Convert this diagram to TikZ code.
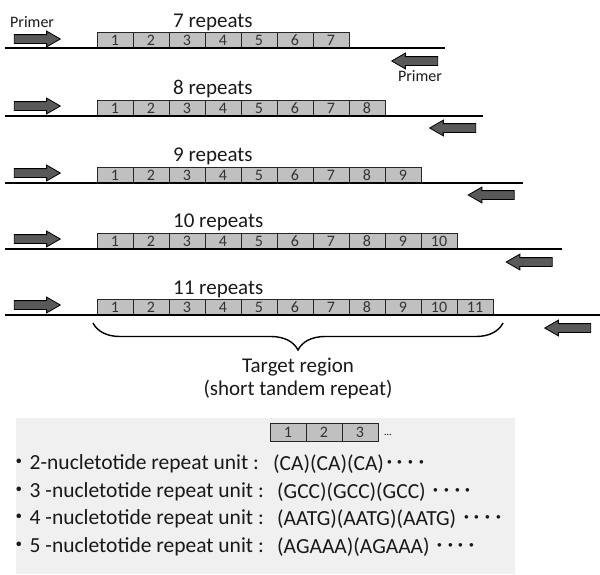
\documentclass[tikz,border=0pt]{standalone}
\usepackage{fontspec}
\setmainfont{Carlito}
\newfontfamily\cjk{Noto Sans CJK JP}
\usetikzlibrary{shapes, shapes.arrows, decorations.pathreplacing, positioning}
\definecolor{cellgray}{HTML}{C0C0C0}
\definecolor{primergray}{HTML}{595959}
\definecolor{panelgray}{HTML}{F0F0F0}
\tikzstyle{cell}=[draw=black!85, fill=cellgray, line width=0.8pt, minimum width=36pt, minimum height=16pt, inner sep=0pt, text=black!80, font=\fontsize{16}{16}\selectfont]
\tikzstyle{strand}=[line width=2.4pt]
\tikzstyle{primer}=[single arrow, draw=black, fill=primergray, line width=0.8pt, minimum height=46pt, minimum width=0pt, inner sep=4pt, single arrow head extend=3.5pt, single arrow tip angle=60]
\tikzstyle{reverse}=[primer, shape border rotate=180]
\tikzstyle{label}=[inner sep=0pt, anchor=west, text=black!90, font=\fontsize{21}{21}\selectfont]
\tikzstyle{unittext}=[label, font=\fontsize{21.5}{21.5}\selectfont]
\tikzstyle{small}=[inner sep=0pt, text=black!90, font=\fontsize{16}{16}\selectfont]

\begin{document}
\begin{tikzpicture}[x=1pt, y=-1pt]
    \useasboundingbox (0, 0) rectangle (600, 574);

    % 7 repeats
    \node (p1)[primer] at (33.5, 39) {};
    \node (q1)[reverse] at (418.5, 61) {};
    \node (pl1)[small, anchor=west] at (10, 22) {Primer};
    \node (pl2)[small] at (420, 76) {Primer};
    \node (n1)[label] at (173, 22) {7 repeats};
    \node (r1c1)[cell] at (115, 40) {1};
    \node (r1c2)[cell] at (151, 40) {2};
    \node (r1c3)[cell] at (187, 40) {3};
    \node (r1c4)[cell] at (223, 40) {4};
    \node (r1c5)[cell] at (259, 40) {5};
    \node (r1c6)[cell] at (295, 40) {6};
    \node (r1c7)[cell] at (331, 40) {7};
    \coordinate (s1) at (5, 48);
    \coordinate (e1) at (445, 48);
    \draw[strand] (s1) -- (e1);

    % 8 repeats
    \node (p2)[primer] at (33.5, 106) {};
    \node (q2)[reverse] at (456.5, 128) {};
    \node (n2)[label] at (173, 89) {8 repeats};
    \node (r2c1)[cell] at (115, 108) {1};
    \node (r2c2)[cell] at (151, 108) {2};
    \node (r2c3)[cell] at (187, 108) {3};
    \node (r2c4)[cell] at (223, 108) {4};
    \node (r2c5)[cell] at (259, 108) {5};
    \node (r2c6)[cell] at (295, 108) {6};
    \node (r2c7)[cell] at (331, 108) {7};
    \node (r2c8)[cell] at (367, 108) {8};
    \coordinate (s2) at (5, 116);
    \coordinate (e2) at (483, 116);
    \draw[strand] (s2) -- (e2);

    % 9 repeats
    \node (p3)[primer] at (33.5, 173) {};
    \node (q3)[reverse] at (495, 195) {};
    \node (n3)[label] at (173, 156) {9 repeats};
    \node (r3c1)[cell] at (115, 175) {1};
    \node (r3c2)[cell] at (151, 175) {2};
    \node (r3c3)[cell] at (187, 175) {3};
    \node (r3c4)[cell] at (223, 175) {4};
    \node (r3c5)[cell] at (259, 175) {5};
    \node (r3c6)[cell] at (295, 175) {6};
    \node (r3c7)[cell] at (331, 175) {7};
    \node (r3c8)[cell] at (367, 175) {8};
    \node (r3c9)[cell] at (403, 175) {9};
    \coordinate (s3) at (5, 183);
    \coordinate (e3) at (523, 183);
    \draw[strand] (s3) -- (e3);

    % 10 repeats
    \node (p4)[primer] at (33.5, 239) {};
    \node (q4)[reverse] at (533, 262) {};
    \node (n4)[label] at (173, 222) {10 repeats};
    \node (r4c1)[cell] at (115, 241) {1};
    \node (r4c2)[cell] at (151, 241) {2};
    \node (r4c3)[cell] at (187, 241) {3};
    \node (r4c4)[cell] at (223, 241) {4};
    \node (r4c5)[cell] at (259, 241) {5};
    \node (r4c6)[cell] at (295, 241) {6};
    \node (r4c7)[cell] at (331, 241) {7};
    \node (r4c8)[cell] at (367, 241) {8};
    \node (r4c9)[cell] at (403, 241) {9};
    \node (r4c10)[cell] at (439, 241) {10};
    \coordinate (s4) at (5, 249);
    \coordinate (e4) at (562, 249);
    \draw[strand] (s4) -- (e4);

    % 11 repeats
    \node (p5)[primer] at (33.5, 305) {};
    \node (q5)[reverse] at (571.5, 328) {};
    \node (n5)[label] at (173, 289) {11 repeats};
    \node (r5c1)[cell] at (115, 307) {1};
    \node (r5c2)[cell] at (151, 307) {2};
    \node (r5c3)[cell] at (187, 307) {3};
    \node (r5c4)[cell] at (223, 307) {4};
    \node (r5c5)[cell] at (259, 307) {5};
    \node (r5c6)[cell] at (295, 307) {6};
    \node (r5c7)[cell] at (331, 307) {7};
    \node (r5c8)[cell] at (367, 307) {8};
    \node (r5c9)[cell] at (403, 307) {9};
    \node (r5c10)[cell] at (439, 307) {10};
    \node (r5c11)[cell] at (475, 307) {11};
    \coordinate (s5) at (5, 315);
    \coordinate (e5) at (600, 315);
    \draw[strand] (s5) -- (e5);

    % target region
    \coordinate (b1) at (93, 323);
    \coordinate (b2) at (503, 323);
    \draw[line width=1.4pt, decorate, decoration={brace, mirror, amplitude=27pt, aspect=0.5}] (b1) -- (b2);
    \node (t1)[label, anchor=center] at (298, 367) {Target region};
    \node (t2)[label, anchor=center] at (298, 390) {(short tandem repeat)};

    % repeat units
    \fill[panelgray] (16, 418) rectangle (515, 574);
    \node (k1)[cell, minimum height=18pt] at (288, 432) {1};
    \node (k2)[cell, minimum height=18pt] at (324, 432) {2};
    \node (k3)[cell, minimum height=18pt] at (360, 432) {3};
    \node (kdots)[inner sep=0pt, anchor=west, font=\fontsize{10}{10}\selectfont] at (384, 435) {...};

    \node (u2)[unittext] at (8, 464) {{\cjk ・}2-nucletotide repeat unit :};
    \node (u3)[unittext] at (8, 492) {{\cjk ・}3 -nucletotide repeat unit :};
    \node (u4)[unittext] at (8, 519) {{\cjk ・}4 -nucletotide repeat unit :};
    \node (u5)[unittext] at (8, 547) {{\cjk ・}5 -nucletotide repeat unit :};
    \node (m2)[unittext] at (273, 464) {(CA)(CA)(CA){\cjk ････}};
    \node (m3)[unittext] at (277, 492) {(GCC)(GCC)(GCC) {\cjk ････}};
    \node (m4)[unittext] at (277, 519) {(AATG)(AATG)(AATG) {\cjk ････}};
    \node (m5)[unittext] at (277, 547) {(AGAAA)(AGAAA) {\cjk ････}};

\end{tikzpicture}
\end{document}
